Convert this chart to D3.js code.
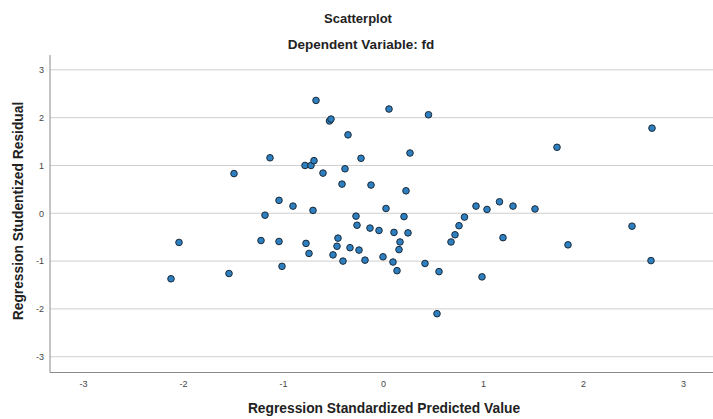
<!DOCTYPE html>
<html>
<head>
<meta charset="utf-8">
<script src="https://cdn.jsdelivr.net/npm/d3@7"></script>
<style>
  html, body { margin: 0; padding: 0; background: #fff; }
  svg { display: block; }
  text { font-family: "Liberation Sans", Arial, sans-serif; }
</style>
</head>
<body>
<svg id="chart" width="713" height="419"></svg>
<script>
const title = "Scatterplot";
const subtitle = "Dependent Variable: fd";
const xLabel = "Regression Standardized Predicted Value";
const yLabel = "Regression Studentized Residual";
const xTicks = [-3, -2, -1, 0, 1, 2, 3];
const yTicks = [-3, -2, -1, 0, 1, 2, 3];

const predicted = [
  -2.12, -2.04, -1.49, -1.54, -1.13, -1.18, -1.22, -1.04, -1.04, -1.01,
  -0.90, -0.78, -0.72, -0.69, -0.67, -0.70, -0.77, -0.74, -0.60, -0.535,
  -0.52, -0.41, -0.38, -0.35, -0.22, -0.50, -0.45, -0.46, -0.40, -0.27,
  -0.26, -0.33, -0.24, -0.18, -0.12, -0.13, -0.04, 0.00, 0.03, 0.06,
  0.10, 0.11, 0.14, 0.16, 0.17, 0.21, 0.23, 0.25, 0.27, 0.42,
  0.455, 0.56, 0.54, 0.68, 0.72, 0.76, 0.815, 0.93, 0.99, 1.04,
  1.165, 1.20, 1.30, 1.52, 1.74, 1.85, 2.49, 2.69, 2.68
];
const residual = [
  -1.37, -0.61, 0.83, -1.26, 1.16, -0.04, -0.57, 0.27, -0.59, -1.11,
  0.15, 1.00, 1.00, 1.10, 2.36, 0.06, -0.63, -0.84, 0.84, 1.93,
  1.97, 0.61, 0.93, 1.64, 1.15, -0.87, -0.52, -0.69, -1.00, -0.06,
  -0.25, -0.72, -0.77, -0.98, 0.59, -0.31, -0.36, -0.91, 0.10, 2.18,
  -1.02, -0.40, -1.20, -0.76, -0.60, -0.07, 0.47, -0.41, 1.26, -1.05,
  2.06, -1.22, -2.10, -0.60, -0.45, -0.26, -0.08, 0.15, -1.33, 0.08,
  0.24, -0.51, 0.15, 0.09, 1.38, -0.66, -0.27, 1.78, -0.99
];

const svg = d3.select("#chart");
const plotL = 50, plotR = 713, plotT = 55, plotB = 372.5;

const x = d3.scaleLinear().domain([-3.33, 3.30]).range([plotL, plotR]);
const y = d3.scaleLinear().domain([-3.33, 3.31]).range([plotB, plotT]);

// gridlines
svg.append("g")
  .selectAll("line")
  .data(yTicks)
  .join("line")
  .attr("x1", plotL).attr("x2", plotR)
  .attr("y1", d => y(d)).attr("y2", d => y(d))
  .attr("stroke", "#cfcfcf").attr("stroke-width", 1);

// axes
const fmt = d => String(d);
const xAxis = d3.axisBottom(x).tickValues(xTicks).tickSize(0).tickPadding(8).tickFormat(fmt);
const yAxis = d3.axisLeft(y).tickValues(yTicks).tickSize(0).tickPadding(6).tickFormat(fmt);

const gx = svg.append("g").attr("transform", `translate(0,${plotB})`).call(xAxis);
const gy = svg.append("g").attr("transform", `translate(${plotL},0)`).call(yAxis);
[gx, gy].forEach(g => {
  g.select(".domain").attr("stroke", "#8a8a8a").attr("stroke-width", 1);
  g.selectAll("text").attr("font-size", 9).attr("fill", "#444")
    .attr("font-family", "'Liberation Sans', Arial, sans-serif");
});
gy.select(".domain").attr("d", `M0,${plotT}V${plotB}`);
gx.select(".domain").attr("d", `M${plotL},0H${plotR}`);

// points
const pts = predicted.map((p, i) => ({ p, r: residual[i] }));
svg.append("g")
  .selectAll("circle")
  .data(pts)
  .join("circle")
  .attr("cx", d => x(d.p))
  .attr("cy", d => y(d.r))
  .attr("r", 3.3)
  .attr("fill", "#2d7fc0")
  .attr("stroke", "#1b2a38")
  .attr("stroke-width", 1);

// titles
svg.append("text").attr("x", 358).attr("y", 23).attr("text-anchor", "middle")
  .attr("font-size", 13).attr("font-weight", "bold").attr("fill", "#222").text(title);
svg.append("text").attr("x", 361).attr("y", 49).attr("text-anchor", "middle")
  .attr("font-size", 13.5).attr("font-weight", "bold").attr("fill", "#222").text(subtitle);

svg.append("text").attr("x", 384).attr("y", 413).attr("text-anchor", "middle")
  .attr("font-size", 13.8).attr("font-weight", "bold").attr("fill", "#222").text(xLabel);
svg.append("text")
  .attr("transform", `translate(23,211) rotate(-90)`)
  .attr("text-anchor", "middle")
  .attr("font-size", 13.8).attr("font-weight", "bold").attr("fill", "#222").text(yLabel);
</script>
</body>
</html>
